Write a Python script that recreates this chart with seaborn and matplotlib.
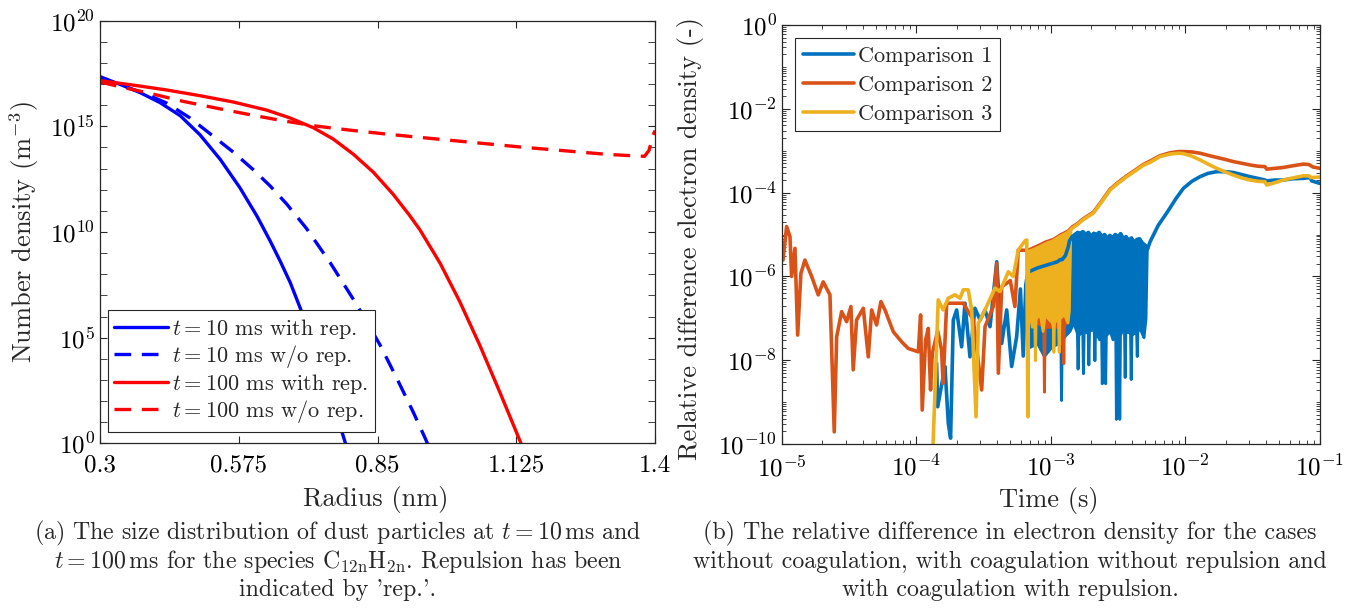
import numpy as np
import pandas as pd
import matplotlib
matplotlib.use("Agg")
import matplotlib.pyplot as plt
import matplotlib.ticker as mticker
import seaborn as sns

# ---------------- (a) size distribution of C12nH2n dust ----------------
# radius in nm, number density given as log10(m^-3)
r_10_rep = [0.30, 0.340, 0.379, 0.419, 0.459, 0.498, 0.538, 0.577, 0.611, 0.637, 0.657, 0.677,
            0.700, 0.736, 0.776, 0.787, 0.79]
n_10_rep = [17.35, 16.98, 16.60, 16.12, 15.50, 14.60, 13.44, 12.10, 10.75, 9.58, 8.62, 7.60,
            6.20, 3.75, 0.80, -0.05, -0.3]

r_10_norep = [0.30, 0.340, 0.386, 0.432, 0.478, 0.518, 0.564, 0.604, 0.637, 0.670, 0.709, 0.756,
              0.809, 0.855, 0.888, 0.921, 0.944, 0.955]
n_10_norep = [17.2, 16.95, 16.58, 16.10, 15.40, 14.65, 13.78, 12.94, 12.18, 11.32, 10.17, 8.55,
              6.55, 4.65, 3.08, 1.46, 0.26, -0.35]

r_100_rep = [0.30, 0.366, 0.432, 0.498, 0.564, 0.630, 0.676, 0.723, 0.762, 0.802, 0.842, 0.881,
             0.913, 0.934, 0.974, 1.013, 1.053, 1.093, 1.136, 1.14]
n_100_rep = [17.16, 16.95, 16.72, 16.45, 16.15, 15.77, 15.40, 14.93, 14.40, 13.68, 12.82, 11.78,
             10.80, 10.10, 8.52, 6.70, 4.62, 2.38, -0.1, -0.33]

r_100_norep = [0.30, 0.340, 0.399, 0.465, 0.531, 0.597, 0.663, 0.729, 0.795, 0.861, 0.928, 1.134,
               1.306, 1.379, 1.388, 1.396, 1.40]
n_100_norep = [17.1, 16.87, 16.56, 16.18, 15.86, 15.55, 15.26, 15.01, 14.82, 14.65, 14.49, 14.02,
               13.67, 13.58, 13.86, 14.57, 14.8]

radius_ticks = [0.3, 0.575, 0.85, 1.125, 1.4]
radius_labels = ["0.3", "0.575", "0.85", "1.125", "1.4"]

# ---------------- (b) relative difference in electron density ----------------
# all values as log10(t / s) and log10(relative difference)
# Comparison 1
c1_logt = [-3.848, -3.84, -3.80, -3.786, -3.761, -3.744, -3.724, -3.699, -3.662, -3.637, -3.600,
           -3.563, -3.525, -3.488, -3.451, -3.401, -3.364, -3.327, -3.29, -3.253, -3.225, -3.204,
           -3.185]
c1_logy = [-8.07, -9.11, -8.4, -8.15, -9.51, -9.86, -7.04, -6.80, -7.68, -6.64, -7.92,
           -6.76, -7.04, -6.80, -7.20, -5.65, -7.60, -6.80, -8.15, -7.44, -6.3, -7.9,
           -6.2]
c1_band_logt = [-3.17, -3.10, -3.05, -3.0, -2.95, -2.93, -2.923, -2.915, -2.89, -2.87,
                -2.86, -2.84, -2.82, -2.80, -2.78, -2.76, -2.74, -2.72, -2.70, -2.68, -2.66,
                -2.64, -2.62, -2.60, -2.58, -2.56, -2.54, -2.52, -2.50, -2.48, -2.46, -2.44,
                -2.42, -2.40, -2.38, -2.36, -2.34, -2.32, -2.30, -2.285]
c1_band_hi = [-5.9, -5.8, -5.75, -5.7, -5.65, -5.6, -5.6, -5.6, -5.5, -5.3,
              -5.15, -5.05, -5.0, -4.95, -4.97, -4.93, -5.0, -4.95, -5.05, -4.97, -5.0,
              -4.95, -5.05, -5.0, -5.1, -5.02, -5.08, -5.0, -5.05, -4.98, -5.1, -5.05,
              -5.15, -5.08, -5.2, -5.12, -5.1, -5.2, -5.25, -5.3]
c1_band_lo_t = [-3.17, -3.10, -3.05, -3.0, -2.95, -2.928, -2.923, -2.918, -2.89, -2.86, -2.832,
                -2.81, -2.805, -2.80, -2.795, -2.765, -2.76, -2.755, -2.725, -2.72, -2.715,
                -2.68, -2.675, -2.67, -2.64, -2.625, -2.62, -2.615, -2.60, -2.595, -2.59,
                -2.56, -2.54, -2.52, -2.515, -2.51, -2.495, -2.49, -2.485, -2.46, -2.455,
                -2.45, -2.445, -2.41, -2.405, -2.40, -2.365, -2.36, -2.355, -2.33, -2.31,
                -2.295, -2.285]
c1_band_lo = [-7.7, -7.6, -7.9, -7.7, -7.6, -7.5, -8.95, -7.5, -7.4, -7.3, -7.1,
              -7.3, -7.35, -8.2, -7.4, -7.3, -8.31, -7.35, -7.3, -8.1, -7.3,
              -7.25, -8.0, -7.3, -7.5, -7.4, -8.55, -7.4, -7.35, -8.55, -7.4,
              -7.3, -7.5, -7.3, -9.4, -7.5, -7.4, -9.4, -7.4, -7.2, -7.3,
              -8.4, -7.3, -7.35, -8.45, -7.4, -7.3, -7.9, -7.2, -7.3, -7.45,
              -7.0, -5.3]
c1_tail_logt = [-2.28, -2.262, -2.20, -2.138, -2.07, -2.014, -1.95, -1.89, -1.83, -1.766, -1.70,
                -1.642, -1.58, -1.518, -1.46, -1.407, -1.394, -1.33, -1.271, -1.20, -1.122,
                -1.07, -1.06, -1.0]
c1_tail_logy = [-5.35, -5.18, -4.78, -4.49, -4.15, -3.90, -3.73, -3.62, -3.54, -3.50, -3.50,
                -3.52, -3.57, -3.62, -3.66, -3.70, -3.72, -3.70, -3.70, -3.67, -3.66,
                -3.64, -3.72, -3.78]

# Comparison 2
c2_logt = [-5.0, -4.99, -4.963, -4.938, -4.926, -4.901, -4.881, -4.857, -4.827, -4.777, -4.728,
           -4.691, -4.641, -4.609, -4.591, -4.554, -4.517, -4.485, -4.468, -4.443, -4.393,
           -4.356, -4.331, -4.294, -4.262, -4.232, -4.170, -4.108, -4.059, -3.984, -3.967,
           -3.955, -3.930, -3.910, -3.893, -3.880, -3.84, -3.811, -3.80, -3.773, -3.736,
           -3.65, -3.575, -3.513, -3.488, -3.427, -3.401, -3.389, -3.364, -3.30, -3.266,
           -3.241, -3.17]
c2_logy = [-5.29, -5.61, -4.81, -5.05, -6.0, -5.33, -7.40, -5.93, -5.61, -6.0, -6.44,
           -6.13, -6.44, -9.71, -7.44, -6.84, -7.08, -6.72, -8.23, -7.04, -6.76,
           -7.92, -6.80, -7.16, -6.60, -6.80, -7.32, -7.56, -7.72, -7.80, -6.92,
           -9.19, -7.52, -7.24, -8.71, -7.84, -7.3, -7.76, -8.55, -6.64, -6.64,
           -6.64, -7.04, -8.71, -7.20, -6.72, -5.69, -8.31, -6.25, -6.1, -6.72,
           -5.37, -5.38]
c2_band_logt = [-3.17, -3.10, -3.06, -3.05, -3.035, -2.98, -2.95, -2.922, -2.906, -2.895,
                -2.87, -2.855]
c2_band_hi = [-5.38, -5.28, -5.22, -5.2, -5.18, -5.12, -5.06, -5.0, -4.98, -4.96,
              -4.92, -4.87]
c2_band_lo_t = [-3.17, -3.10, -3.055, -3.05, -3.045, -2.98, -2.95, -2.925, -2.922, -2.918,
                -2.91, -2.906, -2.902, -2.87, -2.855]
c2_band_lo = [-7.0, -7.1, -7.2, -8.75, -7.2, -7.2, -7.2, -7.2, -7.6, -7.2,
              -7.2, -8.07, -7.2, -6.9, -4.95]
c2_tail_logt = [-2.84, -2.80, -2.76, -2.683, -2.62, -2.559, -2.50, -2.435, -2.37, -2.312, -2.262,
                -2.187, -2.113, -2.05, -2.014, -1.95, -1.89, -1.83, -1.766, -1.70, -1.642,
                -1.58, -1.518, -1.46, -1.407, -1.394, -1.33, -1.271, -1.20, -1.122, -1.08,
                -1.05, -1.0]
c2_tail_logy = [-4.82, -4.74, -4.63, -4.47, -4.2, -3.92, -3.76, -3.60, -3.46, -3.33, -3.25,
                -3.12, -3.05, -3.02, -3.02, -3.03, -3.06, -3.11, -3.16, -3.21, -3.26,
                -3.30, -3.34, -3.37, -3.38, -3.44, -3.42, -3.40, -3.36, -3.32, -3.33,
                -3.39, -3.42]

# Comparison 3
c3_logt = [-3.88, -3.873, -3.836, -3.80, -3.761, -3.712, -3.674, -3.65, -3.613, -3.587, -3.555,
           -3.538, -3.488, -3.414, -3.377, -3.315, -3.278, -3.241, -3.19, -3.178, -3.169]
c3_logy = [-10.3, -9.90, -6.56, -6.80, -6.52, -6.44, -6.52, -6.32, -6.32, -6.80, -9.35,
           -7.12, -6.80, -6.28, -6.36, -5.89, -6.0, -5.37, -5.15, -5.13, -9.35]
c3_band_logt = [-3.165, -3.155, -3.14, -3.125, -3.117, -3.105, -3.08, -3.06, -3.045, -3.02,
                -2.99, -2.98, -2.965, -2.94, -2.925, -2.90, -2.875, -2.865, -2.855]
c3_band_hi = [-5.41, -5.40, -5.38, -5.36, -5.35, -5.33, -5.3, -5.26, -5.24, -5.2,
              -5.17, -5.15, -5.12, -5.07, -5.04, -5.0, -4.96, -4.93, -4.9]
c3_band_lo_t = [-3.165, -3.155, -3.14, -3.122, -3.117, -3.112, -3.08, -3.06, -3.045, -3.02,
                -2.99, -2.984, -2.98, -2.976, -2.96, -2.945, -2.94, -2.935, -2.90, -2.875,
                -2.865, -2.855]
c3_band_lo = [-7.0, -6.9, -7.2, -7.0, -8.0, -7.0, -6.9, -7.3, -6.9, -7.0,
              -7.1, -7.2, -7.8, -7.1, -7.0, -7.1, -7.8, -7.0, -6.9, -7.1,
              -6.8, -5.0]
c3_tail_logt = [-2.84, -2.80, -2.76, -2.683, -2.62, -2.559, -2.50, -2.435, -2.37, -2.312, -2.262,
                -2.187, -2.113, -2.05, -2.014, -1.95, -1.89, -1.83, -1.766, -1.70, -1.642,
                -1.58, -1.518, -1.46, -1.407, -1.394, -1.33, -1.271, -1.20, -1.122, -1.08,
                -1.065, -1.0]
c3_tail_logy = [-4.85, -4.76, -4.65, -4.49, -4.22, -3.94, -3.78, -3.62, -3.48, -3.35, -3.28,
                -3.14, -3.08, -3.06, -3.07, -3.13, -3.22, -3.32, -3.42, -3.51, -3.58,
                -3.65, -3.70, -3.73, -3.74, -3.82, -3.76, -3.70, -3.65, -3.60, -3.60,
                -3.64, -3.63]

comparison_names = ["Comparison 1", "Comparison 2", "Comparison 3"]
comparison_colors = ["#0072BD", "#D95319", "#EDB120"]

# ---------------- styling ----------------
sns.set_theme(style="ticks")
plt.rcParams.update({
    "font.family": ["cmr10"],
    "mathtext.fontset": "cm",
    "axes.formatter.use_mathtext": True,
    "axes.unicode_minus": False,
    "axes.edgecolor": "#262626",
    "axes.linewidth": 0.9,
    "xtick.direction": "in",
    "ytick.direction": "in",
    "xtick.top": True,
    "ytick.right": True,
    "xtick.color": "#262626",
    "ytick.color": "#262626",
    "xtick.labelcolor": "black",
    "ytick.labelcolor": "black",
    "xtick.major.width": 0.8,
    "ytick.major.width": 0.8,
    "xtick.minor.width": 0.6,
    "ytick.minor.width": 0.6,
    "axes.grid": False,
    "lines.solid_joinstyle": "round",
    "lines.dash_joinstyle": "round",
})

fig = plt.figure(figsize=(13.67, 6.08), dpi=100)
ax1 = fig.add_axes([0.0732, 0.2709, 0.4060, 0.6951])
ax2 = fig.add_axes([0.5718, 0.2697, 0.3936, 0.6892])

TICK_FS = 18
LABEL_FS = 19
LEG_FS = 16
CAP_FS = 17.2
LW_A = 2.4
LW_B = 2.6


def pow10_fmt(v, _pos):
    return r"$10^{%d}$" % int(round(np.log10(v)))


# ---------------- panel (a) ----------------
dist_series = [
    (r_10_rep, n_10_rep, "#0000FF", "-", r"$t = 10$ ms with rep."),
    (r_10_norep, n_10_norep, "#0000FF", (0, (5.0, 3.2)), r"$t = 10$ ms w/o rep."),
    (r_100_rep, n_100_rep, "#FF0000", "-", r"$t = 100$ ms with rep."),
    (r_100_norep, n_100_norep, "#FF0000", (0, (5.0, 3.2)), r"$t = 100$ ms w/o rep."),
]
for r, n, col, ls, lab in dist_series:
    df = pd.DataFrame({"radius": r, "density": 10.0 ** np.asarray(n)})
    sns.lineplot(data=df, x="radius", y="density", ax=ax1, color=col, linestyle=ls,
                 linewidth=LW_A, estimator=None, sort=False, label=lab)

ax1.set_yscale("log")
ax1.set_xlim(0.3, 1.4)
ax1.set_ylim(1e0, 1e20)
ax1.xaxis.set_major_locator(mticker.FixedLocator(radius_ticks))
ax1.xaxis.set_major_formatter(mticker.FixedFormatter(radius_labels))
ax1.yaxis.set_major_locator(mticker.FixedLocator([10.0 ** k for k in range(0, 21, 5)]))
ax1.yaxis.set_minor_locator(mticker.FixedLocator([10.0 ** k for k in range(0, 21)]))
ax1.yaxis.set_major_formatter(mticker.FuncFormatter(pow10_fmt))
ax1.yaxis.set_minor_formatter(mticker.NullFormatter())
ax1.tick_params(which="both", labelsize=TICK_FS, length=5)
ax1.tick_params(axis="x", pad=8)
ax1.set_xlabel("Radius (nm)", fontsize=LABEL_FS, va="center")
ax1.xaxis.set_label_coords(0.497, -0.134)
ax1.set_ylabel(r"Number density (m$^{-3}$)", fontsize=LABEL_FS, va="center")
ax1.yaxis.set_label_coords(-0.137, 0.50)
leg1 = ax1.legend(loc="lower left", bbox_to_anchor=(0.0135, 0.027), fontsize=LEG_FS,
                  frameon=True, fancybox=False, edgecolor="#262626", framealpha=1.0,
                  handlelength=2.4, handletextpad=0.2, labelspacing=0.1, borderpad=0.3,
                  borderaxespad=0.0)
leg1.get_frame().set_linewidth(0.8)

# ---------------- panel (b) ----------------
comparisons = [
    (c1_logt, c1_logy, c1_band_logt, c1_band_hi, c1_band_lo_t, c1_band_lo, c1_tail_logt, c1_tail_logy),
    (c2_logt, c2_logy, c2_band_logt, c2_band_hi, c2_band_lo_t, c2_band_lo, c2_tail_logt, c2_tail_logy),
    (c3_logt, c3_logy, c3_band_logt, c3_band_hi, c3_band_lo_t, c3_band_lo, c3_tail_logt, c3_tail_logy),
]
for (lt, ly, bt, bhi, blt, blo, tt, ty), name, col in zip(comparisons, comparison_names,
                                                         comparison_colors):
    t_all = np.concatenate([lt, bt, tt])
    y_all = np.concatenate([ly, bhi, ty])
    df = pd.DataFrame({"time": 10.0 ** t_all, "rel": 10.0 ** y_all})
    sns.lineplot(data=df, x="time", y="rel", ax=ax2, color=col, linewidth=LW_B,
                 estimator=None, sort=False, label=name)
    # densely oscillating stretch of the signal, drawn as its envelope
    band_t = np.union1d(bt, blt)
    hi = np.interp(band_t, bt, bhi)
    lo = np.interp(band_t, blt, blo)
    ax2.fill_between(10.0 ** band_t, 10.0 ** lo, 10.0 ** hi,
                     color=col, linewidth=LW_B * 0.8, edgecolor=col)

ax2.set_xscale("log")
ax2.set_yscale("log")
ax2.set_xlim(1e-5, 1e-1)
ax2.set_ylim(1e-10, 1e0)
ax2.xaxis.set_major_locator(mticker.FixedLocator([10.0 ** k for k in range(-5, 0)]))
ax2.xaxis.set_minor_locator(mticker.LogLocator(base=10, subs=np.arange(2, 10), numticks=20))
ax2.xaxis.set_major_formatter(mticker.FuncFormatter(pow10_fmt))
ax2.xaxis.set_minor_formatter(mticker.NullFormatter())
ax2.yaxis.set_major_locator(mticker.FixedLocator([10.0 ** k for k in range(-10, 1, 2)]))
ax2.yaxis.set_minor_locator(mticker.FixedLocator(
    [s * 10.0 ** k for k in range(-10, 0) for s in range(1, 10) if not (s == 1 and k % 2 == 0)]))
ax2.yaxis.set_major_formatter(mticker.FuncFormatter(pow10_fmt))
ax2.yaxis.set_minor_formatter(mticker.NullFormatter())
ax2.tick_params(which="major", labelsize=TICK_FS, length=5.5)
ax2.tick_params(which="minor", length=3)
ax2.tick_params(axis="x", pad=8)
ax2.set_xlabel("Time (s)", fontsize=LABEL_FS, va="center")
ax2.xaxis.set_label_coords(0.497, -0.134)
ax2.set_ylabel("Relative difference electron density (-)", fontsize=LABEL_FS, va="center")
ax2.yaxis.set_label_coords(-0.1686, 0.49)
leg2 = ax2.legend(loc="upper left", bbox_to_anchor=(0.0243, 0.968), fontsize=LEG_FS,
                  frameon=True, fancybox=False, edgecolor="#262626", framealpha=1.0,
                  handlelength=2.3, handletextpad=0.2, labelspacing=0.42, borderpad=0.35,
                  borderaxespad=0.0)
leg2.get_frame().set_linewidth(0.8)

# ---------------- captions ----------------
cap_a = [
    r"(a) The size distribution of dust particles at $t = 10\,$ms and",
    r"$t = 100\,$ms for the species C$_{12\mathrm{n}}$H$_{2\mathrm{n}}$. Repulsion has been",
    "indicated by 'rep.'.",
]
cap_b = [
    "(b) The relative difference in electron density for the cases",
    "without coagulation, with coagulation without repulsion and",
    "with coagulation with repulsion.",
]
for i, (la, lb) in enumerate(zip(cap_a, cap_b)):
    y = 1 - (533 + 28.6 * i) / 608
    fig.text(338 / 1367, y, la, ha="center", va="center", fontsize=CAP_FS)
    fig.text(1010 / 1367, y, lb, ha="center", va="center", fontsize=CAP_FS)

fig.savefig("out.png", dpi=100)
